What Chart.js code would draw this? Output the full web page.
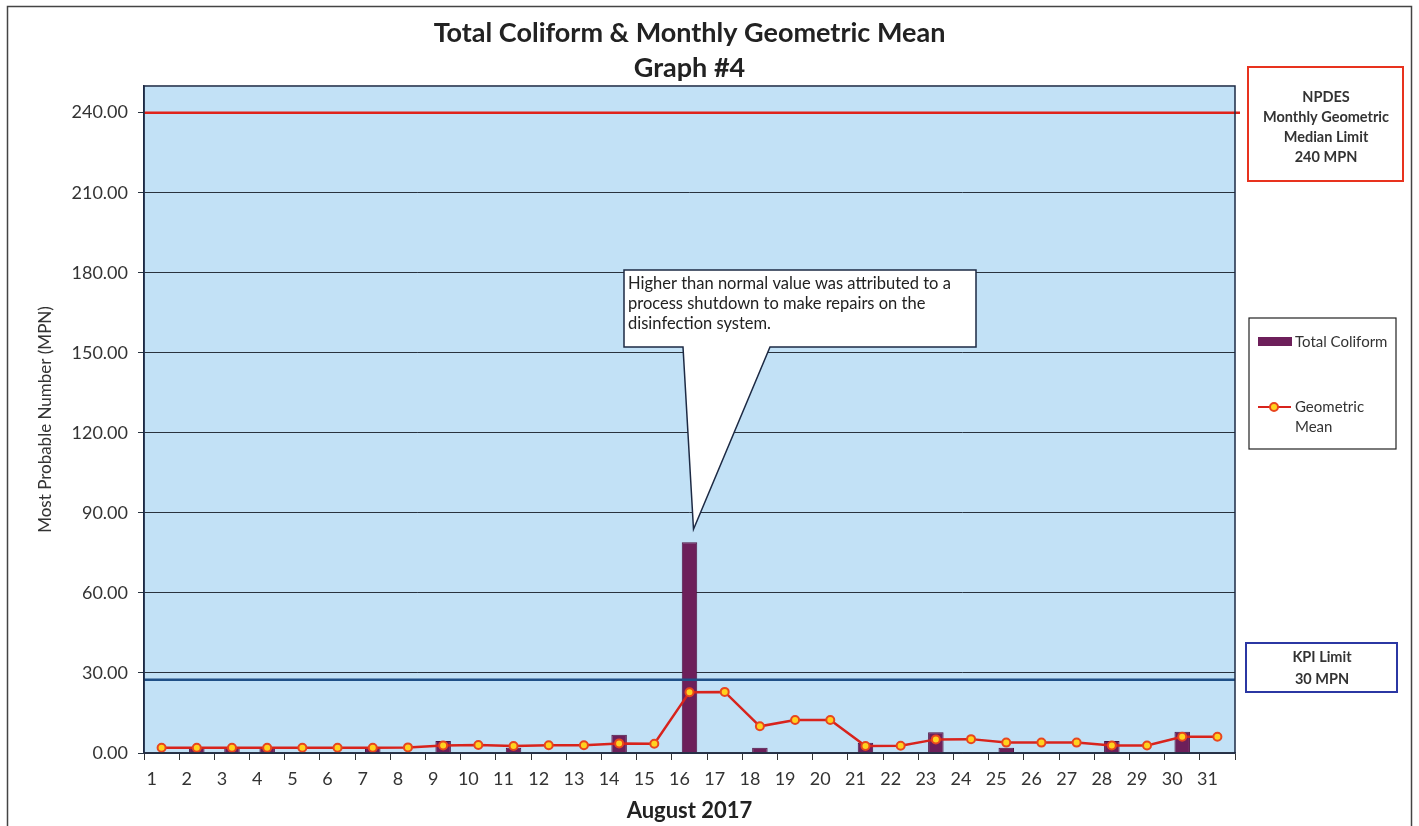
<!DOCTYPE html>
<html>
<head>
<meta charset="utf-8">
<script src="https://cdn.jsdelivr.net/npm/chart.js"></script>
<style>
  body { margin: 0; background: #fff; }
  canvas { display: block; }
</style>
</head>
<body>
<canvas id="myChart" width="1419" height="826"></canvas>
<script>
const days = ['1','2','3','4','5','6','7','8','9','10','11','12','13','14','15','16',
  '17','18','19','20','21','22','23','24','25','26','27','28','29','30','31'];
// Total Coliform, MPN (null = no sample bar)
const totalColiform = [null, 2, 2, 2, null, null, 2, null, 4.5, null, 2, null, null, 6.8, null, 79,
  null, 2, null, null, 3.8, null, 7.8, null, 2, null, null, 4.5, null, 8, null];
// running monthly geometric mean
const geoMean = [2.0, 2.0, 2.0, 2.0, 2.0, 2.0, 2.0, 2.1, 2.8, 3.0, 2.6, 2.9, 2.9, 3.6, 3.5, 22.8,
  22.9, 10.0, 12.4, 12.4, 2.6, 2.7, 5.1, 5.2, 3.9, 3.9, 3.9, 2.8, 2.8, 6.1, 6.1];
const yMax = 250;
const yStep = 30;
const npdesLimit = 240;
const kpiLine = 27.5;   // drawn a bit under the 30 gridline in the original
const noteLines = ['Higher than normal value was attributed to a',
  'process shutdown to make repairs on the',
  'disinfection system.'];

const FONT = 'Lato';
const barColor = '#6d1f5a';
const lineColor = '#d8231c';

const decor = {
  id: 'decor',
  beforeDraw(chart) {
    const c = chart.ctx, a = chart.chartArea;
    c.save();
    c.fillStyle = '#fff';
    c.fillRect(0, 0, chart.width, chart.height);
    c.fillStyle = '#c2e1f6';
    c.fillRect(a.left, a.top, a.right - a.left, a.bottom - a.top);
    c.restore();
  },
  afterDatasetsDraw(chart) {
    const c = chart.ctx, a = chart.chartArea, y = chart.scales.y;
    c.save();
    // NPDES limit line
    let yy = y.getPixelForValue(npdesLimit);
    c.strokeStyle = '#e0231b';
    c.lineWidth = 2.5;
    c.beginPath(); c.moveTo(a.left, yy); c.lineTo(a.right + 5, yy); c.stroke();
    // KPI line
    yy = y.getPixelForValue(kpiLine);
    c.strokeStyle = '#1f4f86';
    c.lineWidth = 2.5;
    c.beginPath(); c.moveTo(a.left, yy); c.lineTo(a.right, yy); c.stroke();
    c.restore();
  },
  afterDraw(chart) {
    const c = chart.ctx, a = chart.chartArea;
    const x = chart.scales.x, y = chart.scales.y;
    c.save();
    // outer frame
    c.strokeStyle = '#444';
    c.lineWidth = 1.5;
    c.strokeRect(7.5, 6.5, 1404, 840);
    // plot border
    c.strokeStyle = '#1d2a44';
    c.lineWidth = 1.5;
    c.strokeRect(a.left, a.top, a.right - a.left, a.bottom - a.top);

    // callout
    const bx0 = 624, bx1 = 976, by0 = 270, by1 = 347;
    const tipX = x.getPixelForValue(15) + 4;
    const tipY = y.getPixelForValue(totalColiform[15]) - 13;
    c.beginPath();
    c.moveTo(bx0, by0); c.lineTo(bx1, by0); c.lineTo(bx1, by1);
    c.lineTo(770, by1); c.lineTo(tipX, tipY); c.lineTo(683, by1);
    c.lineTo(bx0, by1); c.closePath();
    c.fillStyle = '#fff';
    c.fill();
    c.strokeStyle = '#1d2a44';
    c.lineWidth = 1.5;
    c.stroke();
    c.fillStyle = '#222';
    c.font = '16.5px ' + FONT;
    c.textAlign = 'left';
    c.textBaseline = 'middle';
    noteLines.forEach((t, i) => c.fillText(t, 628, 284 + i * 20));

    // NPDES box
    c.strokeStyle = '#e8321e';
    c.lineWidth = 2;
    c.strokeRect(1248, 67, 155, 114);
    c.fillStyle = '#333';
    c.font = 'bold 14.5px ' + FONT;
    c.textAlign = 'center';
    ['NPDES', 'Monthly Geometric', 'Median Limit', '240 MPN']
      .forEach((t, i) => c.fillText(t, 1326, 97 + i * 20));

    // series legend
    c.strokeStyle = '#222';
    c.lineWidth = 1.2;
    c.strokeRect(1249, 318, 147, 131);
    c.fillStyle = barColor;
    c.fillRect(1258, 337, 34, 9);
    c.fillStyle = '#333';
    c.font = '15px ' + FONT;
    c.textAlign = 'left';
    c.fillText('Total Coliform', 1295, 342);
    c.strokeStyle = lineColor;
    c.lineWidth = 2;
    c.beginPath(); c.moveTo(1258, 407); c.lineTo(1291, 407); c.stroke();
    c.beginPath(); c.arc(1274, 407, 4, 0, Math.PI * 2);
    c.fillStyle = '#ffd21f'; c.fill();
    c.strokeStyle = '#e8461e'; c.stroke();
    c.fillStyle = '#333';
    c.fillText('Geometric', 1295, 407);
    c.fillText('Mean', 1295, 427);

    // KPI box
    c.strokeStyle = '#2b37a3';
    c.lineWidth = 2;
    c.strokeRect(1246, 643, 151, 49);
    c.fillStyle = '#333';
    c.font = 'bold 14.5px ' + FONT;
    c.textAlign = 'center';
    c.fillText('KPI Limit', 1322, 657);
    c.fillText('30 MPN', 1322, 679);
    c.restore();
  }
};

const ctx = document.getElementById('myChart').getContext('2d');
const myChart = new Chart(ctx, {
  type: 'bar',
  data: {
    labels: days,
    datasets: [
      {
        type: 'line',
        label: 'Geometric Mean',
        data: geoMean,
        borderColor: lineColor,
        borderWidth: 2.5,
        pointRadius: 4,
        pointBorderWidth: 2,
        pointBorderColor: '#e8461e',
        pointBackgroundColor: '#ffd21f',
        tension: 0,
        order: 0
      },
      {
        label: 'Total Coliform',
        data: totalColiform,
        backgroundColor: barColor,
        borderColor: '#4f1240',
        borderWidth: 1,
        barPercentage: 0.44,
        categoryPercentage: 1,
        order: 1
      }
    ]
  },
  plugins: [decor],
  options: {
    responsive: false,
    animation: false,
    layout: { padding: { left: 31, right: 184, top: 0, bottom: 0 } },
    plugins: {
      legend: { display: false },
      tooltip: { enabled: false },
      title: {
        display: true,
        fullSize: false,
        text: ['Total Coliform & Monthly Geometric Mean', 'Graph #4'],
        color: '#222',
        font: { family: FONT, size: 27, weight: 'bold', lineHeight: 1.296 },
        padding: { top: 15.5, bottom: 0.5 }
      }
    },
    scales: {
      y: {
        min: 0,
        max: yMax,
        afterFit(scale) { scale.width = 113; },
        ticks: {
          stepSize: yStep,
          includeBounds: false,
          padding: 10,
          color: '#333',
          font: { family: FONT, size: 18 },
          callback: (v) => v.toFixed(2)
        },
        grid: { color: '#28323e', lineWidth: 1, tickLength: 6 },
        border: { color: '#1d2a44', width: 1.5 },
        title: {
          display: true,
          text: 'Most Probable Number (MPN)',
          color: '#333',
          font: { family: FONT, size: 17 },
          padding: { top: 4, bottom: 4 }
        }
      },
      x: {
        afterFit(scale) { scale.height = 73; },
        ticks: {
          color: '#333',
          font: { family: FONT, size: 18 },
          padding: 8,
          labelOffset: -10,
          maxRotation: 0,
          autoSkip: false
        },
        grid: { drawOnChartArea: false, color: '#333', tickLength: 7 },
        border: { color: '#555', width: 1.5 },
        title: {
          display: true,
          text: 'August 2017',
          color: '#222',
          font: { family: FONT, size: 22, weight: 'bold' },
          padding: { top: 2, bottom: 2 }
        }
      }
    }
  }
});
</script>
</body>
</html>
